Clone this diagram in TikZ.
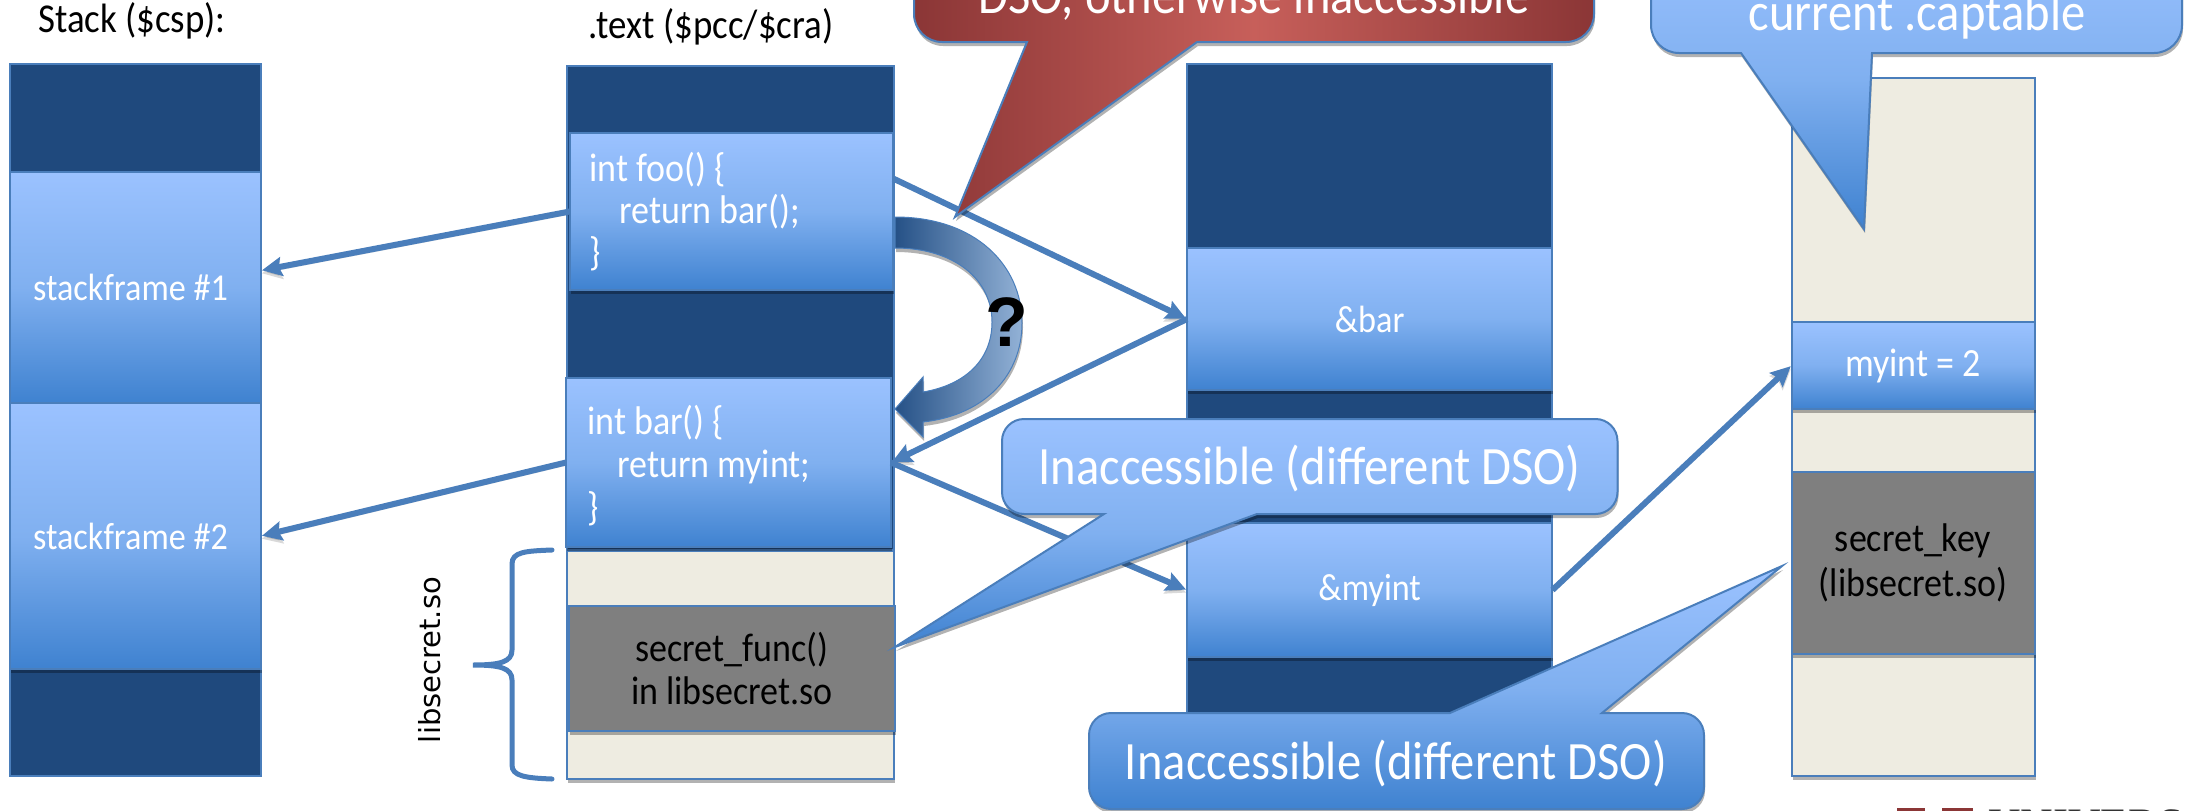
\documentclass[tikz,border=0pt]{standalone}
\usepackage{fontspec}
\setmainfont[FakeStretch=0.9]{Carlito}
\newfontfamily\qfont{Liberation Sans}
\newfontfamily\logofont{Liberation Serif}
\newfontfamily\sofont{DejaVu Sans}
\usetikzlibrary{arrows.meta,shadows,calc}
\definecolor{edgeblue}{HTML}{4A7EBB}
\definecolor{darkblue}{HTML}{1F497D}
\definecolor{lightblue}{HTML}{9BC2FF}
\definecolor{midblue}{HTML}{80B0F0}
\definecolor{deepblue}{HTML}{3F82D0}
\definecolor{beige}{HTML}{EEECE1}
\definecolor{greybox}{HTML}{7F7F7F}
\definecolor{reddark}{HTML}{8B3636}
\definecolor{redlight}{HTML}{C75F5A}
\newcommand{\fs}[1]{\fontsize{#1}{43}\selectfont}
\tikzset{
  softshadow/.style={drop shadow={shadow xshift=1pt,shadow yshift=-4pt,opacity=.3,fill=black}},
  region/.style={rectangle,inner sep=0pt,outer sep=0pt,draw=edgeblue,line width=2pt},
  darkbox/.style={region,fill=darkblue},
  beigebox/.style={region,fill=beige,softshadow},
  graybox/.style={region,fill=greybox,text=black,align=center,font=\fs{40},softshadow},
  bluebox/.style={region,top color=lightblue,bottom color=deepblue,middle color=midblue,text=white,align=center,font=\fs{38},softshadow},
  codetext/.style={text=white,anchor=base west,inner sep=0pt,font=\fs{40}},
  callout/.style={draw=edgeblue,line width=2pt,top color=lightblue,bottom color=deepblue,middle color=midblue,softshadow},
  redcallout/.style={draw=edgeblue,line width=2pt,left color=reddark,right color=reddark,middle color=redlight,softshadow},
  calltext/.style={text=white,inner sep=0pt,font=\fs{54}},
  heading/.style={text=black,inner sep=0pt,font=\fs{41}},
  link/.style={draw=edgeblue,line width=6pt,-{Stealth[length=20pt,width=19pt,inset=3pt]},shorten >=1pt,
    preaction={draw=black,opacity=.15,transform canvas={yshift=-3pt}}},
}
\begin{document}
\begin{tikzpicture}[x=1pt,y=-1pt]
\useasboundingbox (0,0) rectangle (2185,811);
\clip (0,0) rectangle (2185,811);
\fill[white] (0,0) rectangle (2185,811);
% headings
\node[heading] (hstack) at (132,21) {Stack (\$csp):};
\node[heading] (htext) at (711,27) {.text (\$pcc/\$cra)};
% column 1
\node[darkbox,minimum width=251pt,minimum height=712pt] (col1) at (135.5,420) {};
\node[bluebox,minimum width=251pt,minimum height=231pt] (sf1) at (135.5,287.5) {\hspace*{-10pt}stackframe \#1};
\node[bluebox,minimum width=251pt,minimum height=266pt] (sf2) at (135.5,536) {\hspace*{-10pt}stackframe \#2};
% column 2
\node[darkbox,minimum width=327pt,minimum height=484pt] (col2) at (730.5,308) {};
\node[beigebox,minimum width=327pt,minimum height=228pt] (lib) at (730.5,665) {};
\node[graybox,minimum width=326pt,minimum height=125pt] (secf) at (732,668.5) {secret\_func()\\in libsecret.so};
\node[bluebox,minimum width=323.5pt,minimum height=157pt] (foo) at (731.5,211.5) {};
\node[bluebox,minimum width=325pt,minimum height=169pt] (bar) at (728.5,462.5) {};
\node[codetext] (footxt) at (589,181) {int foo() \{};
\node[codetext] (footxtb) at (619,223) {return bar();};
\node[codetext] (footxtc) at (589,265) {\}};
\node[codetext] (bartxt) at (587,434) {int bar() \{};
\node[codetext] (bartxtb) at (617,477) {return myint;};
\node[codetext] (bartxtc) at (587,520) {\}};
% column 3
\node[darkbox,minimum width=365.5pt,minimum height=652pt] (col3) at (1369.7,390) {};
\node[bluebox,minimum width=365.5pt,minimum height=142pt] (pbar) at (1369.7,319) {\&bar};
\node[bluebox,minimum width=365.5pt,minimum height=134pt] (pmyint) at (1369.7,590) {\raisebox{-8pt}{\&myint}};
% column 4
\node[beigebox,minimum width=243pt,minimum height=698pt] (col4) at (1913,427) {};
\node[bluebox,minimum width=243pt,minimum height=87pt,font=\fs{40}] (vmyint) at (1913,365.5) {myint = 2};
\node[graybox,minimum width=243pt,minimum height=182pt] (vkey) at (1913,563) {secret\_key\\[2pt](libsecret.so)};
% connectors
\draw[link] (foo.west) -- ([yshift=17pt]sf1.east);
\draw[link] (bar.west) -- (sf2.east);
\coordinate (fooout) at ($(foo.north east)!0.29!(foo.south east)$);
\draw[link] (fooout) -- (pbar.west);
\draw[link] (pbar.west) -- (bar.east);
\draw[link] (bar.east) -- (pmyint.west);
\draw[link] (pmyint.east) -- (vmyint.west);
% curved block arrow
\path[draw=edgeblue,line width=1pt,left color=darkblue!85!edgeblue,right color=edgeblue!60!white,softshadow]
  (895,217) .. controls (975,217) and (1022,265) .. (1022,323)
  .. controls (1022,375) and (985,415) .. (923,422) -- (923,437) -- (895,409) -- (923,377) -- (923,392)
  .. controls (965,385) and (992,360) .. (992,322)
  .. controls (992,280) and (955,248) .. (895,248) -- cycle;
\node[inner sep=0pt,text=black,font={\qfont\bfseries\fontsize{70}{70}\selectfont}] (q) at (1007,322) {?};
% brace
\draw[edgeblue,line width=5pt,line cap=round]
  (552,550) .. controls (525,551) and (512,552) .. (512,564) -- (512,650)
  .. controls (512,662) and (500,665) .. (473,665)
  .. controls (500,665) and (512,668) .. (512,680) -- (512,765)
  .. controls (512,776) and (525,778) .. (552,779);
\node[rotate=90,inner sep=0pt,text=black,font={\sofont\fontsize{29}{29}\selectfont}] (so) at (430,660) {libsecret.so};
% callouts
\path[redcallout,rounded corners=28pt] (914,-60) -- (1594,-60) -- (1594,42)
  [sharp corners] -- (1197,42) -- (955,217) -- (1027,42) [rounded corners=28pt] -- (914,42) -- cycle;
\node[calltext,anchor=base] (redt) at (1254,13) {DSO, otherwise inaccessible};
\path[callout,rounded corners=28pt] (1651,-70) -- (2182,-70) -- (2182,53)
  [sharp corners] -- (1872,53) -- (1864,229) -- (1741,53) [rounded corners=28pt] -- (1651,53) -- cycle;
\node[calltext,anchor=base] (capt) at (1917,30) {current .captable};
\path[callout,rounded corners=22pt] (1002,419) -- (1617.5,419) -- (1617.5,514)
  [sharp corners] -- (1257,514) -- (895,647) -- (1104,514) [rounded corners=22pt] -- (1002,514) -- cycle;
\node[calltext] (mid) at (1309.5,468) {Inaccessible (different DSO)};
\path[callout,rounded corners=22pt] (1602,713) -- (1704,713) -- (1704,809) -- (1089,809) -- (1089,713)
  [sharp corners] -- (1450,713) -- (1782,566) -- cycle;
\node[calltext] (bot) at (1396,763) {Inaccessible (different DSO)};
% cropped logo
\fill[reddark] (1897,808) rectangle (1973,811);
\fill[white] (1925,808) rectangle (1942,811);
\node[anchor=base west,inner sep=0pt,text=black!80,font={\logofont\fontsize{45}{45}\selectfont}] (logo) at (1988,839) {UNIVERS};
\end{tikzpicture}
\end{document}
